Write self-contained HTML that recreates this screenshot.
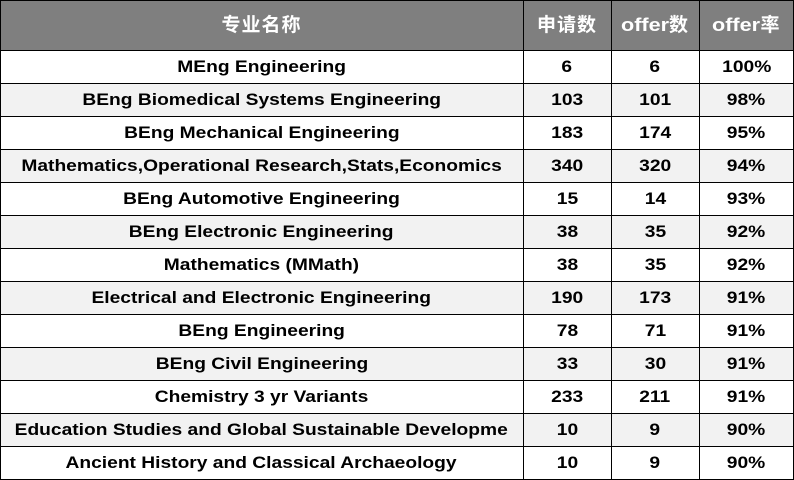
<!DOCTYPE html>
<html>
<head>
<meta charset="utf-8">
<style>
html,body{margin:0;padding:0;background:#fff;}
#t{position:relative;width:794px;height:480px;overflow:hidden;background:#fff;
  font-family:"Liberation Sans","Noto Sans CJK SC",sans-serif;font-weight:bold;color:#000;}
.bg{position:absolute;left:0;width:794px;}
.h{position:absolute;left:0;width:794px;height:1px;background:#000;}
.v{position:absolute;top:0;height:480px;width:1px;background:#000;}
.c{position:absolute;text-align:center;white-space:nowrap;font-size:17px;height:33px;line-height:33px;}
.c span{display:inline-block;transform:scaleX(1.13);transform-origin:center;}
.hd{position:absolute;top:0;height:50px;line-height:50px;text-align:center;white-space:nowrap;color:#fff;font-size:18px;}
.hd .l{display:inline-block;transform:scaleX(1.2);margin:0 4px;}
.hd .k{letter-spacing:1px;font-size:19px;}
</style>
</head>
<body>
<div id="t">
  <div class="bg" style="top:0;height:50px;background:#7f7f7f;"></div>
  <div class="bg" style="top:83px;height:33px;background:#f2f2f2;"></div>
  <div class="bg" style="top:149px;height:33px;background:#f2f2f2;"></div>
  <div class="bg" style="top:215px;height:33px;background:#f2f2f2;"></div>
  <div class="bg" style="top:281px;height:33px;background:#f2f2f2;"></div>
  <div class="bg" style="top:347px;height:33px;background:#f2f2f2;"></div>
  <div class="bg" style="top:413px;height:33px;background:#f2f2f2;"></div>

  <div class="hd" style="left:0;width:523px;"><span class="k">专业名称</span></div>
  <div class="hd" style="left:523px;width:88px;"><span class="k">申请数</span></div>
  <div class="hd" style="left:611px;width:88px;"><span class="l">offer</span><span class="k">数</span></div>
  <div class="hd" style="left:699px;width:95px;"><span class="l">offer</span><span class="k">率</span></div>

  <div class="c" style="top:50px;left:0;width:523px;"><span>MEng Engineering</span></div>
  <div class="c" style="top:50px;left:523px;width:88px;"><span>6</span></div>
  <div class="c" style="top:50px;left:611px;width:88px;"><span>6</span></div>
  <div class="c" style="top:50px;left:699px;width:95px;"><span>100%</span></div>

  <div class="c" style="top:83px;left:0;width:523px;"><span>BEng Biomedical Systems Engineering</span></div>
  <div class="c" style="top:83px;left:523px;width:88px;"><span>103</span></div>
  <div class="c" style="top:83px;left:611px;width:88px;"><span>101</span></div>
  <div class="c" style="top:83px;left:699px;width:95px;"><span>98%</span></div>

  <div class="c" style="top:116px;left:0;width:523px;"><span>BEng Mechanical Engineering</span></div>
  <div class="c" style="top:116px;left:523px;width:88px;"><span>183</span></div>
  <div class="c" style="top:116px;left:611px;width:88px;"><span>174</span></div>
  <div class="c" style="top:116px;left:699px;width:95px;"><span>95%</span></div>

  <div class="c" style="top:149px;left:0;width:523px;"><span>Mathematics,Operational Research,Stats,Economics</span></div>
  <div class="c" style="top:149px;left:523px;width:88px;"><span>340</span></div>
  <div class="c" style="top:149px;left:611px;width:88px;"><span>320</span></div>
  <div class="c" style="top:149px;left:699px;width:95px;"><span>94%</span></div>

  <div class="c" style="top:182px;left:0;width:523px;"><span>BEng Automotive Engineering</span></div>
  <div class="c" style="top:182px;left:523px;width:88px;"><span>15</span></div>
  <div class="c" style="top:182px;left:611px;width:88px;"><span>14</span></div>
  <div class="c" style="top:182px;left:699px;width:95px;"><span>93%</span></div>

  <div class="c" style="top:215px;left:0;width:523px;"><span>BEng Electronic Engineering</span></div>
  <div class="c" style="top:215px;left:523px;width:88px;"><span>38</span></div>
  <div class="c" style="top:215px;left:611px;width:88px;"><span>35</span></div>
  <div class="c" style="top:215px;left:699px;width:95px;"><span>92%</span></div>

  <div class="c" style="top:248px;left:0;width:523px;"><span>Mathematics (MMath)</span></div>
  <div class="c" style="top:248px;left:523px;width:88px;"><span>38</span></div>
  <div class="c" style="top:248px;left:611px;width:88px;"><span>35</span></div>
  <div class="c" style="top:248px;left:699px;width:95px;"><span>92%</span></div>

  <div class="c" style="top:281px;left:0;width:523px;"><span>Electrical and Electronic Engineering</span></div>
  <div class="c" style="top:281px;left:523px;width:88px;"><span>190</span></div>
  <div class="c" style="top:281px;left:611px;width:88px;"><span>173</span></div>
  <div class="c" style="top:281px;left:699px;width:95px;"><span>91%</span></div>

  <div class="c" style="top:314px;left:0;width:523px;"><span>BEng Engineering</span></div>
  <div class="c" style="top:314px;left:523px;width:88px;"><span>78</span></div>
  <div class="c" style="top:314px;left:611px;width:88px;"><span>71</span></div>
  <div class="c" style="top:314px;left:699px;width:95px;"><span>91%</span></div>

  <div class="c" style="top:347px;left:0;width:523px;"><span>BEng Civil Engineering</span></div>
  <div class="c" style="top:347px;left:523px;width:88px;"><span>33</span></div>
  <div class="c" style="top:347px;left:611px;width:88px;"><span>30</span></div>
  <div class="c" style="top:347px;left:699px;width:95px;"><span>91%</span></div>

  <div class="c" style="top:380px;left:0;width:523px;"><span>Chemistry 3 yr Variants</span></div>
  <div class="c" style="top:380px;left:523px;width:88px;"><span>233</span></div>
  <div class="c" style="top:380px;left:611px;width:88px;"><span>211</span></div>
  <div class="c" style="top:380px;left:699px;width:95px;"><span>91%</span></div>

  <div class="c" style="top:413px;left:0;width:523px;"><span>Education Studies and Global Sustainable Developme</span></div>
  <div class="c" style="top:413px;left:523px;width:88px;"><span>10</span></div>
  <div class="c" style="top:413px;left:611px;width:88px;"><span>9</span></div>
  <div class="c" style="top:413px;left:699px;width:95px;"><span>90%</span></div>

  <div class="c" style="top:446px;left:0;width:523px;"><span>Ancient History and Classical Archaeology</span></div>
  <div class="c" style="top:446px;left:523px;width:88px;"><span>10</span></div>
  <div class="c" style="top:446px;left:611px;width:88px;"><span>9</span></div>
  <div class="c" style="top:446px;left:699px;width:95px;"><span>90%</span></div>

  <div class="h" style="top:0;"></div>
  <div class="h" style="top:50px;"></div>
  <div class="h" style="top:83px;"></div>
  <div class="h" style="top:116px;"></div>
  <div class="h" style="top:149px;"></div>
  <div class="h" style="top:182px;"></div>
  <div class="h" style="top:215px;"></div>
  <div class="h" style="top:248px;"></div>
  <div class="h" style="top:281px;"></div>
  <div class="h" style="top:314px;"></div>
  <div class="h" style="top:347px;"></div>
  <div class="h" style="top:380px;"></div>
  <div class="h" style="top:413px;"></div>
  <div class="h" style="top:446px;"></div>
  <div class="h" style="top:479px;"></div>
  <div class="v" style="left:0;"></div>
  <div class="v" style="left:523px;"></div>
  <div class="v" style="left:611px;"></div>
  <div class="v" style="left:699px;"></div>
  <div class="v" style="left:793px;"></div>
</div>
</body>
</html>
